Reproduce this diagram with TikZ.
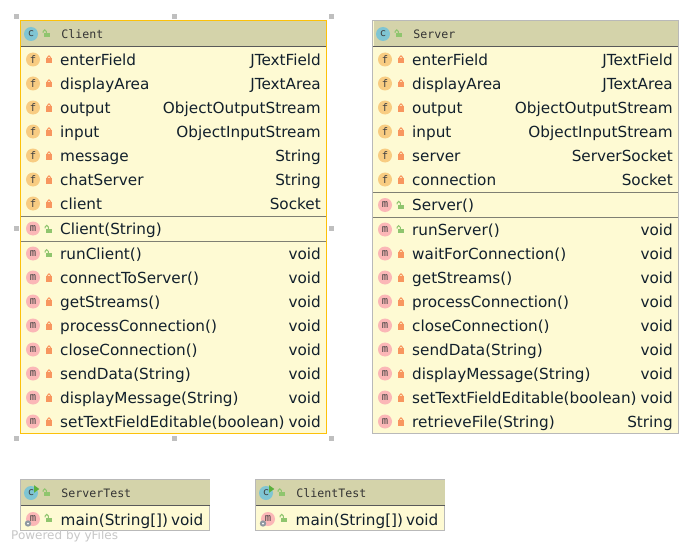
\documentclass[tikz,border=0pt]{standalone}
\usepackage{fontspec}
\setmainfont{DejaVu Sans}
\setmonofont{DejaVu Sans Mono}
\usetikzlibrary{positioning,calc}
\definecolor{headfill}{HTML}{D4D3AA}
\definecolor{bodyfill}{HTML}{FEFAD3}
\definecolor{edgegray}{HTML}{B9B9B9}
\definecolor{edgesel}{HTML}{FCC10A}
\definecolor{sepgray}{HTML}{7F7F73}
\definecolor{classblue}{HTML}{7FC5D3}
\definecolor{fieldtan}{HTML}{F8CC82}
\definecolor{methodpink}{HTML}{FBB7B7}
\definecolor{shutlock}{HTML}{F8965F}
\definecolor{openlock}{HTML}{8FC56E}
\definecolor{runpale}{HTML}{5AB03C}
\definecolor{gearpale}{HTML}{8E98A0}
\definecolor{inktext}{HTML}{12202C}
\tikzset{
  pics/lockshut/.style={code={
    \draw[shutlock, line width=1pt] (-1.7,0) -- (-1.7,-2) arc[start angle=180, end angle=360, radius=1.7] -- (1.7,0);
    \fill[shutlock] (-3,-1.5) rectangle (3,4);
  }},
  pics/lockopen/.style={code={
    \draw[openlock, line width=1pt] (-4,-0.2) -- (-4,-1.4) arc[start angle=180, end angle=360, radius=1.7] -- (-0.6,0.4);
    \fill[openlock] (-3,0) rectangle (3,4.4);
  }},
  pics/runmark/.style={code={
    \fill[runpale] (0,-3.8) -- (5.3,0) -- (0,3.8) -- cycle;
  }},
  pics/gearmark/.style={code={
    \fill[gearpale] (0,0) circle[radius=3.2];
    \fill[white] (0,0) circle[radius=1];
  }}
}
\begin{document}
\begin{tikzpicture}[
  x=1pt, y=-1pt,
  classbox/.style={rectangle, draw=edgegray, fill=bodyfill, line width=1pt, inner sep=0pt},
  selected/.style={draw=edgesel},
  headbar/.style={rectangle, fill=headfill, inner sep=0pt, minimum height=25pt, anchor=north west},
  headtext/.style={anchor=base west, inner sep=0pt, text=black!80, font=\ttfamily\fontsize{11.6}{14}\selectfont},
  badge/.style={circle, inner sep=0pt, minimum size=14pt, text=black!75, font=\ttfamily\fontsize{10.5}{11}\selectfont},
  membername/.style={anchor=base west, inner sep=0pt, text=inktext, font=\fontsize{15.25}{18}\selectfont},
  membertype/.style={anchor=base east, inner sep=0pt, text=inktext, font=\fontsize{15.25}{18}\selectfont},
  sepline/.style={draw=sepgray, line width=1pt},
  headline/.style={draw=black!65, line width=1.2pt},
  handle/.style={rectangle, fill=black!25, inner sep=0pt, minimum size=5pt}
]
\useasboundingbox (0,0) rectangle (699,551);
\fill[white] (0,0) rectangle (699,551);

% Client
\node[classbox, minimum width=305.5pt, minimum height=412.6pt, anchor=north west] (client) at (20,20) {};
\node[headbar, minimum width=305pt] (clienthead) at (21,21) {};
\draw[headline] (clienthead.south west) -- (clienthead.south east);
\node[badge, fill=classblue] (clientbadge) at (31,34) {c};
\pic at (47,33) {lockopen};
\node[headtext, right=23pt of clientbadge.east, anchor=west] (clientname) {Client};
\foreach \row/\fname/\ftype [count=\i] in {59/enterField/JTextField, 83/displayArea/JTextArea,
    107/output/ObjectOutputStream, 131/input/ObjectInputStream, 155/message/String,
    179/chatServer/String, 203/client/Socket} {
  \node[badge, fill=fieldtan] (clientf\i) at (33,\row.5) {f};
  \pic at (49,\row.5) {lockshut};
  \node[membername] (clientfn\i) at (60,\row+6.2) {\fname};
  \node[membertype] (clientft\i) at (321,\row+6.2) {\ftype};
}
\draw[sepline] (21,216) -- (325.5,216);
\node[badge, fill=methodpink] (clientctor) at (33,228.5) {m};
\pic at (49,228.5) {lockopen};
\node[membername] (clientctorn) at (60,234) {Client(String)};
\draw[sepline] (21,241) -- (325.5,241);
\node[badge, fill=methodpink] (clientrun) at (33,253.5) {m};
\pic at (49,252.8) {lockopen};
\node[membername] (clientrunn) at (60,259) {runClient()};
\node[membertype] (clientrunt) at (321,259) {void};
\foreach \row/\mname/\mtype [count=\i] in {277/connectToServer()/void, 301/getStreams()/void,
    325/processConnection()/void, 349/closeConnection()/void, 373/sendData(String)/void,
    397/displayMessage(String)/void, 421/setTextFieldEditable(boolean)/void} {
  \node[badge, fill=methodpink] (clientm\i) at (33,\row.5) {m};
  \pic at (49,\row.5) {lockshut};
  \node[membername] (clientmn\i) at (60,\row+6) {\mname};
  \node[membertype] (clientmt\i) at (321,\row+6) {\mtype};
}
\node[classbox, selected, fill=none, minimum width=305.5pt, minimum height=412.6pt, anchor=north west] (clientedge) at (client.north west) {};

% selection handles
\foreach \hx/\hy [count=\i] in {16.5/16.5, 174/16.5, 331.5/16.5, 16.5/228, 331.5/228, 16.5/438.5, 174/438.5, 331.5/438.5} {
  \node[handle] (grip\i) at (\hx,\hy) {};
}

% Server
\node[classbox, minimum width=305.2pt, minimum height=412.6pt, anchor=north west] (server) at (372.3,20) {};
\node[headbar, minimum width=304.5pt] (serverhead) at (373.3,21) {};
\draw[headline] (serverhead.south west) -- (serverhead.south east);
\node[badge, fill=classblue] (serverbadge) at (383,34) {c};
\pic at (399,33) {lockopen};
\node[headtext, right=23pt of serverbadge.east, anchor=west] (servername) {Server};
\foreach \row/\fname/\ftype [count=\i] in {59/enterField/JTextField, 83/displayArea/JTextArea,
    107/output/ObjectOutputStream, 131/input/ObjectInputStream, 155/server/ServerSocket,
    179/connection/Socket} {
  \node[badge, fill=fieldtan] (serverf\i) at (385,\row.5) {f};
  \pic at (401,\row.5) {lockshut};
  \node[membername] (serverfn\i) at (412,\row+6.2) {\fname};
  \node[membertype] (serverft\i) at (673,\row+6.2) {\ftype};
}
\draw[sepline] (373.3,192) -- (677.8,192);
\node[badge, fill=methodpink] (serverctor) at (385,205) {m};
\pic at (401,204.5) {lockopen};
\node[membername] (serverctorn) at (412,210) {Server()};
\draw[sepline] (373.3,217) -- (677.8,217);
\node[badge, fill=methodpink] (serverrun) at (385,229.5) {m};
\pic at (401,228.8) {lockopen};
\node[membername] (serverrunn) at (412,235) {runServer()};
\node[membertype] (serverrunt) at (673,235) {void};
\foreach \row/\mname/\mtype [count=\i] in {253/waitForConnection()/void, 277/getStreams()/void,
    301/processConnection()/void, 325/closeConnection()/void, 349/sendData(String)/void,
    373/displayMessage(String)/void, 397/setTextFieldEditable(boolean)/void, 421/retrieveFile(String)/String} {
  \node[badge, fill=methodpink] (serverm\i) at (385,\row.5) {m};
  \pic at (401,\row.5) {lockshut};
  \node[membername] (servermn\i) at (412,\row+6) {\mname};
  \node[membertype] (servermt\i) at (673,\row+6) {\mtype};
}

% test classes
\foreach \tname/\tx [count=\i] in {ServerTest/20.5, ClientTest/255.5} {
  \node[classbox, minimum width=189pt, minimum height=51pt, anchor=north west] (test\i) at (\tx-0.5,479) {};
  \node[headbar, minimum width=188.5pt] (test\i head) at (\tx+0.5,480) {};
  \draw[headline] (test\i head.south west) -- (test\i head.south east);
  \node[badge, fill=classblue] (test\i badge) at (\tx+10.5,493) {c};
  \pic at (\tx+13.5,489) {runmark};
  \pic at (\tx+26.5,492) {lockopen};
  \node[headtext, right=23pt of test\i badge.east, anchor=west] (test\i name) {\tname};
  \node[badge, fill=methodpink] (test\i main) at (\tx+12.5,519) {m};
  \pic at (\tx+7.5,523.5) {gearmark};
  \pic at (\tx+28.5,517.5) {lockopen};
  \node[membername] (test\i mainn) at (\tx+40,525) {main(String[])};
  \node[membertype] (test\i maint) at (\tx+183,525) {void};
}

\node[anchor=base west, inner sep=0pt, text=black!22, font=\fontsize{12}{15}\selectfont] (credit) at (11,539) {Powered by yFiles};
\end{tikzpicture}
\end{document}
